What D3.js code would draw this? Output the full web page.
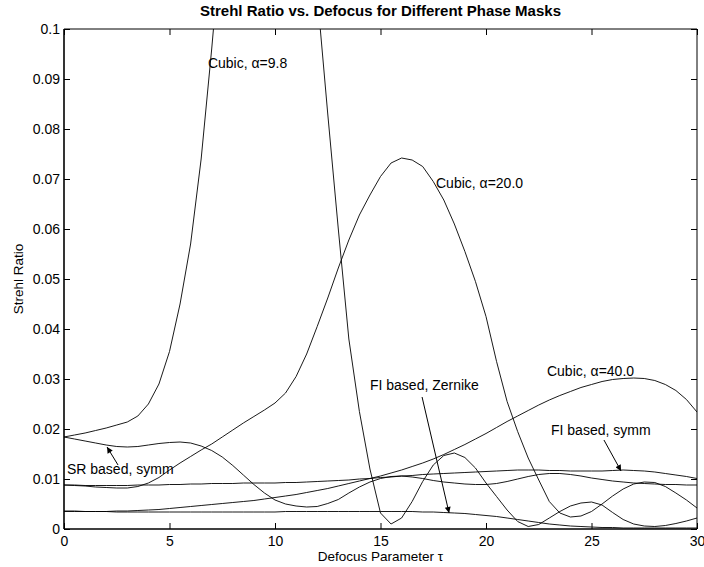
<!DOCTYPE html>
<html>
<head>
<meta charset="utf-8">
<script src="https://cdn.jsdelivr.net/npm/d3@7"></script>
<style>
  body { margin: 0; background: #fff; }
  text { font-family: "Liberation Sans", Arial, Helvetica, sans-serif; }
</style>
</head>
<body>
<svg id="chart" width="704" height="567"></svg>
<script>
// defocus samples, step 0.5
const tau = d3.range(0, 61).map(i => i / 2);

const cubic98 = [
  0.0184, 0.0188, 0.0192, 0.0197, 0.0202, 0.0208, 0.0214, 0.0226, 0.0250, 0.0290,
  0.0355, 0.0450, 0.0570, 0.0740, 0.0960, 0.1200, 0.1400, 0.1600, 0.1700, 0.1750,
  0.1750, 0.1700, 0.1550, 0.1350, 0.1070, 0.0830, 0.0600, 0.0380, 0.0235, 0.0120,
  0.0032, 0.0010, 0.0022, 0.0055, 0.0095, 0.0128, 0.0147, 0.0152, 0.0143, 0.0122,
  0.0092, 0.0065, 0.0038, 0.0015, 0.0005, 0.0009, 0.0022, 0.0035, 0.0046, 0.0052,
  0.0054, 0.0048, 0.0033, 0.0019, 0.0010, 0.0006, 0.0005, 0.0007, 0.0011, 0.0016,
  0.0022
];

const cubic20 = [
  0.0088, 0.0087, 0.0086, 0.0084, 0.0083, 0.0082, 0.0082, 0.0085, 0.0092, 0.0103,
  0.0118, 0.0132, 0.0145, 0.0158, 0.0170, 0.0184, 0.0198, 0.0212, 0.0225, 0.0238,
  0.0252, 0.0272, 0.0305, 0.0350, 0.0405, 0.0462, 0.0522, 0.0578, 0.0628, 0.0668,
  0.0705, 0.0732, 0.0742, 0.0738, 0.0725, 0.0695, 0.0658, 0.0610, 0.0555, 0.0495,
  0.0425, 0.0335, 0.0255, 0.0195, 0.0142, 0.0098, 0.0055, 0.0032, 0.0024, 0.0026,
  0.0035, 0.0050, 0.0066, 0.0080, 0.0090, 0.0094, 0.0093, 0.0085, 0.0072, 0.0058,
  0.0042
];

const cubic40 = [
  0.0035, 0.0035, 0.0035, 0.0035, 0.0035, 0.0036, 0.0036, 0.0037, 0.0038, 0.0039,
  0.0041, 0.0043, 0.0045, 0.0047, 0.0049, 0.0051, 0.0053, 0.0055, 0.0057, 0.0060,
  0.0063, 0.0066, 0.0069, 0.0073, 0.0077, 0.0081, 0.0086, 0.0091, 0.0096, 0.0101,
  0.0106, 0.0112, 0.0118, 0.0125, 0.0132, 0.0140, 0.0149, 0.0159, 0.0169, 0.0180,
  0.0191, 0.0203, 0.0215, 0.0226, 0.0237, 0.0248, 0.0258, 0.0267, 0.0275, 0.0283,
  0.0289, 0.0295, 0.0299, 0.0301, 0.0302, 0.0301, 0.0297, 0.0289, 0.0277, 0.0259,
  0.0234
];

const srSymm = [
  0.0184, 0.0180, 0.0176, 0.0172, 0.0168, 0.0165, 0.0164, 0.0165, 0.0168, 0.0171,
  0.0173, 0.0174, 0.0172, 0.0166, 0.0157, 0.0144, 0.0127, 0.0108, 0.0089, 0.0072,
  0.0058, 0.0050, 0.0046, 0.0044, 0.0045, 0.0051, 0.0059, 0.0072, 0.0084, 0.0094,
  0.0101, 0.0105, 0.0106, 0.0104, 0.0101, 0.0097, 0.0094, 0.0092, 0.0090, 0.0089,
  0.0089, 0.0091, 0.0095, 0.0100, 0.0105, 0.0109, 0.0111, 0.0111, 0.0109, 0.0106,
  0.0102, 0.0099, 0.0096, 0.0094, 0.0092, 0.0091, 0.0090, 0.0089, 0.0089, 0.0088,
  0.0088
];

const fiSymm = [
  0.0088, 0.0088, 0.0087, 0.0087, 0.0087, 0.0087, 0.0087, 0.0088, 0.0088, 0.0088,
  0.0089, 0.0089, 0.0090, 0.0090, 0.0091, 0.0091, 0.0091, 0.0092, 0.0092, 0.0092,
  0.0092, 0.0093, 0.0093, 0.0094, 0.0095, 0.0096, 0.0097, 0.0098, 0.0100, 0.0101,
  0.0103, 0.0104, 0.0106, 0.0107, 0.0109, 0.0110, 0.0111, 0.0112, 0.0113, 0.0114,
  0.0115, 0.0116, 0.0117, 0.0118, 0.0118, 0.0118, 0.0117, 0.0117, 0.0116, 0.0116,
  0.0116, 0.0116, 0.0117, 0.0118, 0.0117, 0.0116, 0.0114, 0.0111, 0.0108, 0.0105,
  0.0101
];

const fiZernike = [
  0.0036, 0.0036, 0.0035, 0.0035, 0.0035, 0.0034, 0.0034, 0.0034, 0.0034, 0.0034,
  0.0034, 0.0034, 0.0034, 0.0034, 0.0034, 0.0034, 0.0034, 0.0034, 0.0034, 0.0034,
  0.0034, 0.0035, 0.0035, 0.0035, 0.0035, 0.0035, 0.0035, 0.0035, 0.0035, 0.0035,
  0.0035, 0.0035, 0.0035, 0.0035, 0.0034, 0.0034, 0.0033, 0.0032, 0.0031, 0.0029,
  0.0027, 0.0025, 0.0022, 0.0019, 0.0016, 0.0013, 0.0010, 0.0008, 0.0006, 0.0005,
  0.0004, 0.0003, 0.0003, 0.0002, 0.0002, 0.0002, 0.0002, 0.0002, 0.0002, 0.0002,
  0.0002
];

const series = [cubic98, cubic20, cubic40, srSymm, fiSymm, fiZernike];

const xTicks = [0, 5, 10, 15, 20, 25, 30];
const yTicks = d3.range(0, 11).map(i => i / 100);

// text labels placed in data units
const labels = [
  { text: "Cubic, \u03b1=9.8", t: 6.82, v: 0.0922 },
  { text: "Cubic, \u03b1=20.0", t: 17.63, v: 0.0682 },
  { text: "Cubic, \u03b1=40.0", t: 22.89, v: 0.0306 },
  { text: "FI based, Zernike", t: 14.5, v: 0.0278 },
  { text: "FI based, symm", t: 23.08, v: 0.0188 },
  { text: "SR based, symm", t: 0.14, v: 0.0110 }
];

// arrows: from -> tip
const arrows = [
  { t0: 2.56, v0: 0.0128, t1: 2.04, v1: 0.0164 },
  { t0: 16.97, v0: 0.0264, t1: 18.25, v1: 0.0032 },
  { t0: 25.59, v0: 0.0178, t1: 26.40, v1: 0.0116 }
];

const margin = { top: 29, right: 7, bottom: 38, left: 64 },
      width = 704 - margin.left - margin.right,
      height = 567 - margin.top - margin.bottom;

const svg = d3.select("#chart");
const g = svg.append("g")
  .attr("transform", `translate(${margin.left},${margin.top})`);

const x = d3.scaleLinear().domain([0, 30]).range([0, width]);
const y = d3.scaleLinear().domain([0, 0.1]).range([height, 0]);

svg.append("defs").append("clipPath")
  .attr("id", "clip")
  .append("rect")
  .attr("width", width)
  .attr("height", height);

svg.select("defs").append("marker")
  .attr("id", "head")
  .attr("viewBox", "0 0 10 10")
  .attr("refX", 10)
  .attr("refY", 5)
  .attr("markerUnits", "userSpaceOnUse")
  .attr("markerWidth", 9)
  .attr("markerHeight", 6)
  .attr("orient", "auto")
  .append("path")
  .attr("d", "M0,0 L10,5 L0,10 Z")
  .attr("fill", "#000");

const fontSize = 14;

// axes with inward ticks
const styleAxis = sel => {
  sel.select(".domain").remove();
  sel.selectAll("line").attr("stroke", "#000");
  sel.selectAll("text")
    .attr("fill", "#000")
    .style("font-size", fontSize + "px");
};

g.append("g")
  .attr("transform", `translate(0,${height})`)
  .call(d3.axisBottom(x).tickValues(xTicks).tickSizeInner(-6).tickSizeOuter(0).tickPadding(7))
  .call(styleAxis);

g.append("g")
  .call(d3.axisTop(x).tickValues(xTicks).tickSizeInner(-6).tickSizeOuter(0).tickFormat(""))
  .call(styleAxis);

g.append("g")
  .call(d3.axisLeft(y).tickValues(yTicks).tickSizeInner(-6).tickSizeOuter(0).tickPadding(4)
    .tickFormat(d => d === 0 ? "0" : d3.format("~g")(d)))
  .call(styleAxis);

g.append("g")
  .attr("transform", `translate(${width},0)`)
  .call(d3.axisRight(y).tickValues(yTicks).tickSizeInner(-6).tickSizeOuter(0).tickFormat(""))
  .call(styleAxis);

// box
g.append("line").attr("x1", 0).attr("x2", width).attr("y1", 0).attr("y2", 0)
  .attr("stroke", "#000").attr("stroke-width", 1);
g.append("line").attr("x1", width).attr("x2", width).attr("y1", 0).attr("y2", height)
  .attr("stroke", "#000").attr("stroke-width", 1);
g.append("line").attr("x1", 0).attr("x2", 0).attr("y1", 0).attr("y2", height)
  .attr("stroke", "#000").attr("stroke-width", 1.6);
g.append("line").attr("x1", 0).attr("x2", width).attr("y1", height).attr("y2", height)
  .attr("stroke", "#000").attr("stroke-width", 1.6);

// curves
const line = d3.line()
  .x((d, i) => x(tau[i]))
  .y(d => y(d));

g.append("g")
  .attr("clip-path", "url(#clip)")
  .selectAll("path")
  .data(series)
  .enter()
  .append("path")
  .attr("d", line)
  .attr("fill", "none")
  .attr("stroke", "#000")
  .attr("stroke-width", 0.9);

// annotations
g.selectAll(".lbl")
  .data(labels)
  .enter()
  .append("text")
  .attr("class", "lbl")
  .attr("x", d => x(d.t))
  .attr("y", d => y(d.v))
  .style("font-size", fontSize + "px")
  .text(d => d.text);

g.selectAll(".arrow")
  .data(arrows)
  .enter()
  .append("line")
  .attr("class", "arrow")
  .attr("x1", d => x(d.t0))
  .attr("y1", d => y(d.v0))
  .attr("x2", d => x(d.t1))
  .attr("y2", d => y(d.v1))
  .attr("stroke", "#000")
  .attr("stroke-width", 1)
  .attr("marker-end", "url(#head)");

// titles
svg.append("text")
  .attr("x", margin.left + width / 2)
  .attr("y", 16)
  .attr("text-anchor", "middle")
  .style("font-size", "15px")
  .style("font-weight", "bold")
  .text("Strehl Ratio vs. Defocus for Different Phase Masks");

svg.append("text")
  .attr("x", margin.left + width / 2)
  .attr("y", 561)
  .attr("text-anchor", "middle")
  .style("font-size", "13.5px")
  .text("Defocus Parameter \u03c4");

svg.append("text")
  .attr("transform", `translate(23,${margin.top + height / 2}) rotate(-90)`)
  .attr("text-anchor", "middle")
  .style("font-size", "13.5px")
  .text("Strehl Ratio");
</script>
</body>
</html>
